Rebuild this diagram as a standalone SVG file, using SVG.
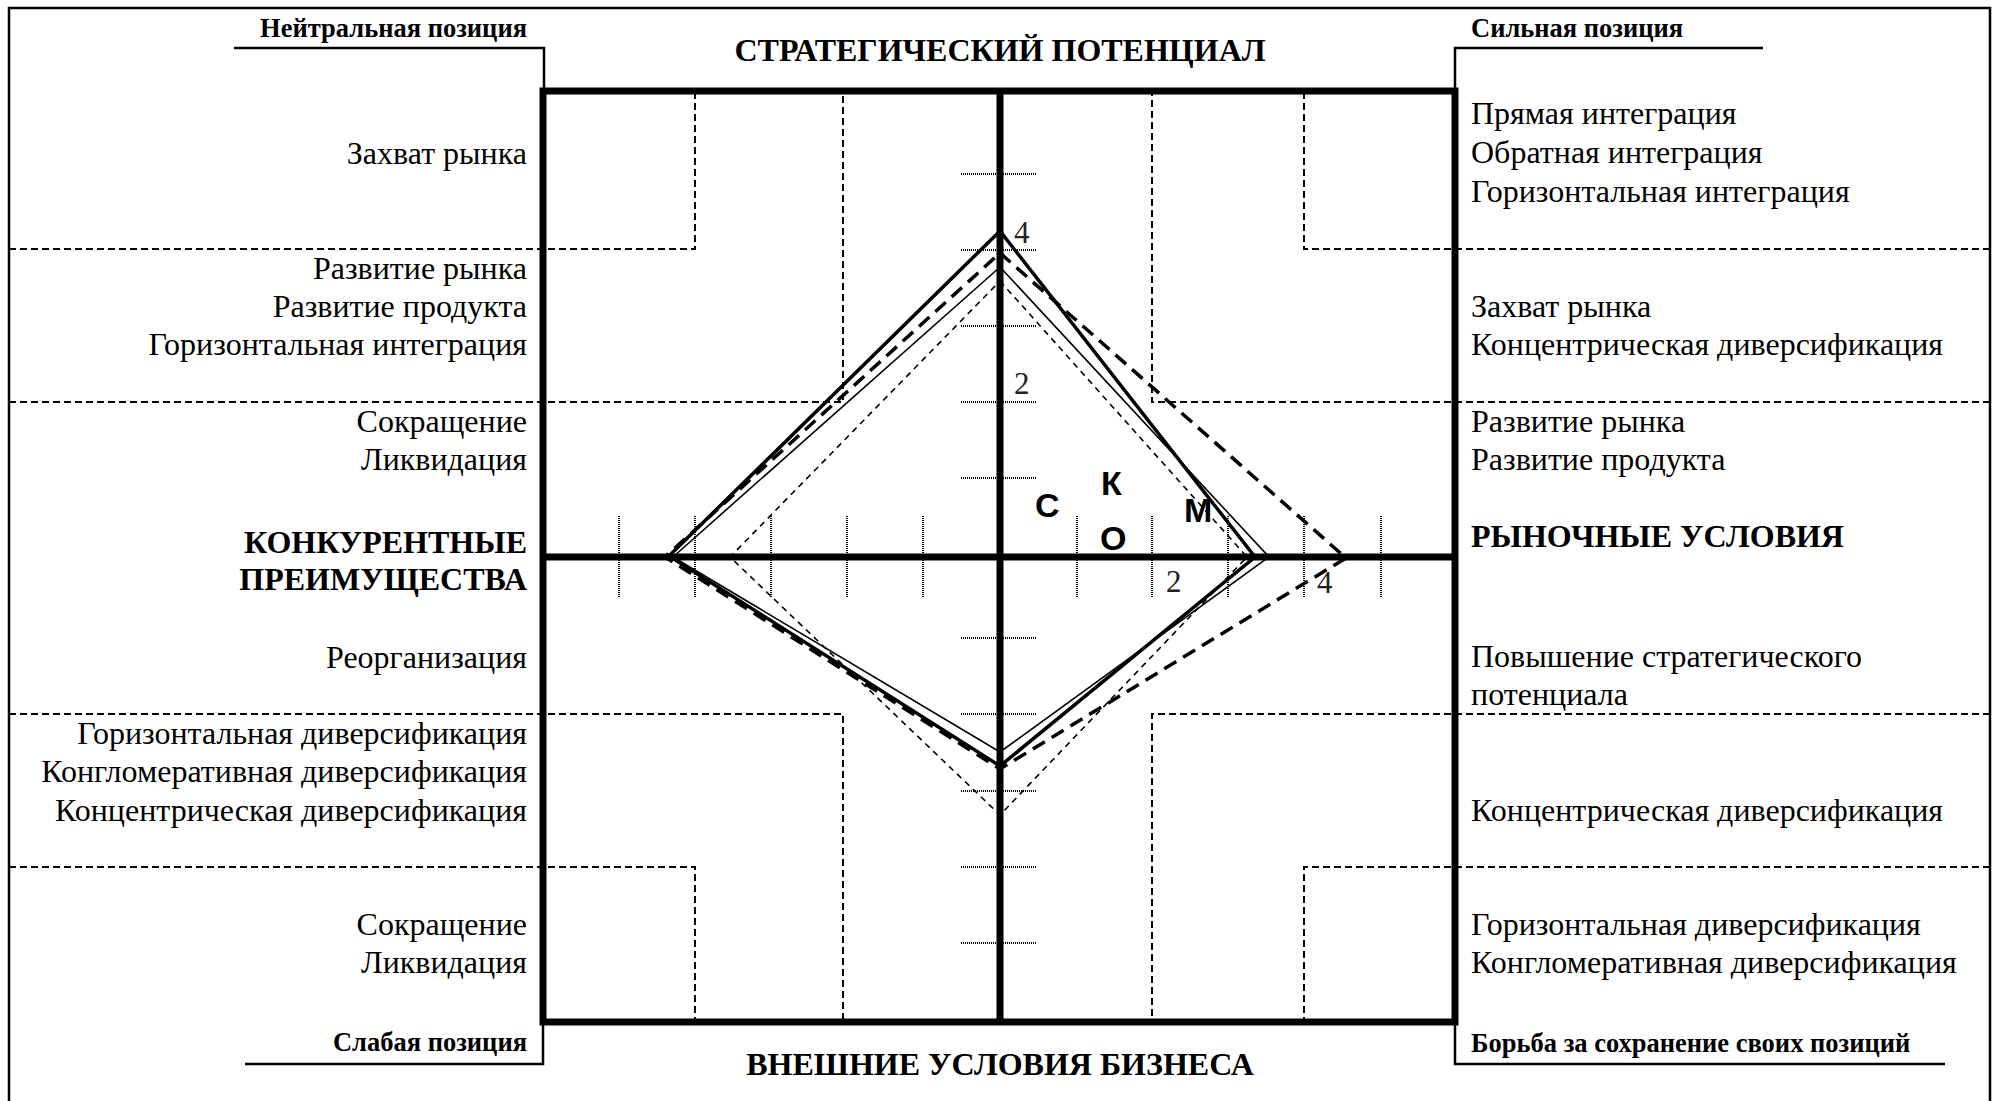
<svg xmlns="http://www.w3.org/2000/svg" width="1995" height="1101" viewBox="0 0 1995 1101">
<style>
.t{font-family:"Liberation Serif","Times New Roman",serif;font-size:32px;fill:#000}
.b{font-weight:bold}
.s{font-size:26.5px;font-weight:bold}
.e{text-anchor:end}
.m{text-anchor:middle}
.n{font-family:"Liberation Serif","Times New Roman",serif;font-size:31px;fill:#222}
.L{font-family:"Liberation Sans",Arial,sans-serif;font-weight:bold;font-size:34px;fill:#000}
.dash{stroke:#000;stroke-width:2;stroke-dasharray:7 4;fill:none}
.dot{stroke:#000;stroke-width:2;stroke-dasharray:1 1;fill:none}
.thick{stroke:#000;stroke-width:7;fill:none}
.line{stroke:#000;stroke-width:2.5;fill:none}
.p1{stroke:#000;stroke-width:3.5;fill:none;stroke-linejoin:miter}
.p2{stroke:#000;stroke-width:1.6;fill:none}
.p3{stroke:#000;stroke-width:3.5;fill:none;stroke-dasharray:14 8}
.p4{stroke:#000;stroke-width:1.6;fill:none;stroke-dasharray:6 5}
</style>
<rect width="1995" height="1101" fill="#fff"/>
<g id="border">
<path class="line" d="M9,1101 V8 H1990 V1101"/>
<path class="line" d="M234,48 H544 V88"/>
<path class="line" d="M245,1064 H543 V1025"/>
<path class="line" d="M1763,48 H1455 V88"/>
<path class="line" d="M1945,1064 H1455 V1025"/>
</g>
<g id="grid">
<path class="dash" d="M9,249 H695 V91"/>
<path class="dash" d="M1990,249 H1304 V91"/>
<path class="dash" d="M9,402 H843 V91"/>
<path class="dash" d="M1990,402 H1152 V91"/>
<path class="dash" d="M9,714 H843 V1022"/>
<path class="dash" d="M1990,714 H1152 V1022"/>
<path class="dash" d="M9,867 H695 V1022"/>
<path class="dash" d="M1990,867 H1304 V1022"/>
</g>
<g id="ticks">
<path class="dot" d="M961,174 H1037 M961,250 H1037 M961,326 H1037 M961,402 H1037 M961,478 H1037 M961,638 H1037 M961,714 H1037 M961,791 H1037 M961,867 H1037 M961,943 H1037"/>
<path class="dot" d="M619,516 V598 M695,516 V598 M771,516 V598 M847,516 V598 M923,516 V598 M1077,516 V598 M1152,516 V598 M1228,516 V598 M1304,516 V598 M1381,516 V598"/>
</g>
<g id="frame">
<rect class="thick" x="543" y="91" width="912" height="931"/>
<path class="thick" d="M543,557 H1455 M1000,91 V1022"/>
</g>
<g id="connectors">
<polygon class="p1" points="1000,231 1255,557 1000,766 669,556"/>
<polygon class="p2" points="1000,267 1269,557 1000,752 673,557"/>
<polygon class="p3" points="1000,253 1346,558 1000,769 665,557"/>
<polygon class="p4" points="1000,281 1247,557 1000,815 730,557"/>
</g>
<g id="axis-numbers">
<text class="n" x="1014" y="243">4</text>
<text class="n" x="1014" y="394">2</text>
<text class="n" x="1166" y="592">2</text>
<text class="n" x="1317" y="593">4</text>
</g>
<g id="letters">
<text class="L" x="1035" y="517">С</text>
<text class="L" x="1101" y="495">К</text>
<text class="L" x="1100" y="550">О</text>
<text class="L" x="1184" y="522">М</text>
</g>
<g id="left-labels" class="t e">
<text class="t s e" x="527" y="37">Нейтральная позиция</text>
<text x="527" y="164">Захват рынка</text>
<text x="527" y="279">Развитие рынка</text>
<text x="527" y="317">Развитие продукта</text>
<text x="527" y="355">Горизонтальная интеграция</text>
<text x="527" y="432">Сокращение</text>
<text x="527" y="470">Ликвидация</text>
<text class="b" x="527" y="553">КОНКУРЕНТНЫЕ</text>
<text class="b" x="527" y="590">ПРЕИМУЩЕСТВА</text>
<text x="527" y="668">Реорганизация</text>
<text x="527" y="744">Горизонтальная диверсификация</text>
<text x="527" y="782">Конгломеративная диверсификация</text>
<text x="527" y="821">Концентрическая диверсификация</text>
<text x="527" y="935">Сокращение</text>
<text x="527" y="973">Ликвидация</text>
<text class="t s e" x="527" y="1051">Слабая позиция</text>
</g>
<g id="right-labels" class="t">
<text class="t s" x="1471" y="37">Сильная позиция</text>
<text x="1471" y="124">Прямая интеграция</text>
<text x="1471" y="163">Обратная интеграция</text>
<text x="1471" y="202">Горизонтальная интеграция</text>
<text x="1471" y="317">Захват рынка</text>
<text x="1471" y="355">Концентрическая диверсификация</text>
<text x="1471" y="432">Развитие рынка</text>
<text x="1471" y="470">Развитие продукта</text>
<text class="b" x="1471" y="547">РЫНОЧНЫЕ УСЛОВИЯ</text>
<text x="1471" y="667">Повышение стратегического</text>
<text x="1471" y="705">потенциала</text>
<text x="1471" y="821">Концентрическая диверсификация</text>
<text x="1471" y="935">Горизонтальная диверсификация</text>
<text x="1471" y="973">Конгломеративная диверсификация</text>
<text class="t s" x="1471" y="1052">Борьба за сохранение своих позиций</text>
</g>
<g id="titles" class="t b m">
<text x="1000" y="61">СТРАТЕГИЧЕСКИЙ ПОТЕНЦИАЛ</text>
<text x="1000" y="1075">ВНЕШНИЕ УСЛОВИЯ БИЗНЕСА</text>
</g>
</svg>
